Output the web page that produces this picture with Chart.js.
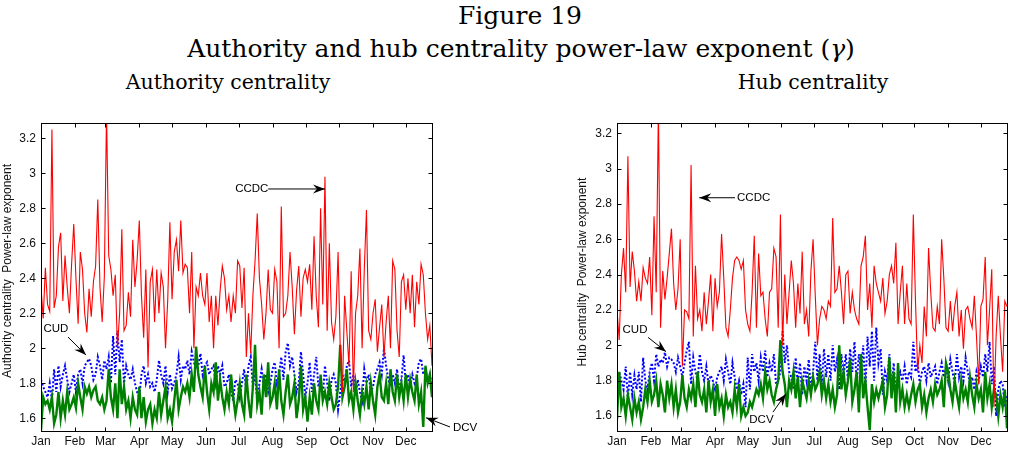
<!DOCTYPE html>
<html>
<head>
<meta charset="utf-8">
<script src="https://cdn.jsdelivr.net/npm/chart.js@4.4.1/dist/chart.umd.min.js"></script>
<style>
  body { margin: 0; background: #fff; }
  #page { position: relative; width: 1013px; height: 453px; overflow: hidden; }
  .ttl { position: absolute; font-family: "DejaVu Serif", serif; color: #000; text-align: center; line-height: 1; white-space: nowrap; }
  canvas { position: absolute; }
</style>
</head>
<body>
<div id="page">
  <div class="ttl" style="left:20px;width:1000px;top:3px;font-size:25px">Figure 19</div>
  <div class="ttl" style="left:21px;width:1000px;top:36px;font-size:25px">Authority and hub centrality power-law exponent (<i>γ</i>)</div>
  <div class="ttl" style="left:28px;width:400px;top:72px;font-size:20.5px">Authority centrality</div>
  <div class="ttl" style="left:613px;width:400px;top:72px;font-size:20.5px">Hub centrality</div>
  <canvas id="authChart" width="480" height="353" style="left:0;top:100px"></canvas>
  <canvas id="hubChart" width="437" height="353" style="left:576px;top:100px"></canvas>
</div>
<script>
// month axis (day of year of each month start)
const monthNames = ['Jan', 'Feb', 'Mar', 'Apr', 'May', 'Jun', 'Jul', 'Aug', 'Sep', 'Oct', 'Nov', 'Dec'];
const monthStarts = [0, 31, 59, 90, 120, 151, 181, 212, 243, 273, 304, 334];
const yTicks = [1.6, 1.8, 2, 2.2, 2.4, 2.6, 2.8, 3, 3.2];
const dayStep = 2; // one reading every second day

// Authority centrality
const authCCDC = [
  2.35, 2.17, 2.46, 2.25, 2.21, 3.25, 2.23, 2.3, 2.58, 2.66, 2.27, 2.53, 2.35, 2.2, 2.48, 2.71,
  2.4, 2.14, 2.55, 2.45, 2.2, 2.09, 2.34, 2.18, 2.38, 2.47, 2.85, 2.35, 2.15, 2.41,
  3.35, 2.53, 2.45, 2.3, 2.42, 2.0, 2.2, 2.68, 2.1, 2.13, 2.32, 2.18, 2.62, 2.35, 2.5,
  2.73, 2.3, 2.06, 2.45, 1.89, 2.38, 2.45, 2.15, 2.45, 2.2, 2.43, 2.35, 2.0, 2.27, 2.72,
  2.28, 2.55, 2.62, 2.44, 2.73, 2.43, 2.48, 2.46, 2.2, 2.55, 2.0, 2.35, 2.3, 2.43, 2.3, 2.25,
  2.43, 2.15, 2.3, 2.0, 2.3, 2.13, 2.33, 2.47, 2.4, 2.22, 2.3, 2.15, 2.3, 2.2, 2.5,
  2.47, 2.23, 2.46, 1.95, 2.2, 1.97, 2.3, 2.5, 2.77, 2.4, 2.25, 2.05, 2.2, 2.45, 2.22,
  2.2, 2.45, 2.38, 2.0, 2.81, 2.18, 2.2, 2.3, 2.55, 2.35, 2.08, 2.33, 2.47, 2.18, 2.4, 2.45,
  2.38, 2.48, 2.22, 2.64, 2.3, 2.12, 2.8, 2.25, 2.98, 2.1, 2.6, 2.15, 2.05, 2.18, 2.55,
  2.0, 1.75, 2.3, 2.1, 1.9, 2.44, 1.75, 2.2, 2.3, 2.57, 2.0, 2.45, 2.79, 2.1, 2.05,
  2.2, 2.28, 1.98, 2.12, 2.25, 1.95, 2.15, 2.3, 2.0, 2.5, 2.45, 2.1, 1.95, 2.38, 2.42,
  2.22, 2.4, 2.2, 2.42, 2.12, 2.38, 2.25, 2.48, 2.42, 2.2, 2.05, 2.13, 1.9
];
const authCUD = [
  1.82, 1.78, 1.75, 1.72, 1.8, 1.7, 1.88, 1.75, 1.9, 1.78, 1.85, 1.9, 1.82, 1.75, 1.8, 1.85,
  1.75, 1.85, 1.88, 1.8, 1.9, 1.92, 1.94, 1.9, 1.82, 1.85, 1.95, 1.9, 1.82, 1.93,
  1.88, 1.95, 1.8, 2.07, 1.85, 2.1, 1.92, 2.05, 1.8, 1.9, 1.85, 1.82, 1.88, 1.8, 1.75,
  1.72, 1.85, 1.9, 1.8, 1.85, 1.78, 1.8, 1.75, 1.82, 1.93, 1.85, 1.8, 1.9, 1.75, 1.85,
  1.77, 1.8, 1.85, 1.95, 1.82, 1.9, 1.88, 1.93, 1.85, 1.98, 1.92, 1.88, 1.9, 1.97, 1.85, 1.9,
  1.92, 1.85, 1.88, 1.9, 1.8, 1.9, 1.85, 1.9, 1.78, 1.8, 1.85, 1.75, 1.7, 1.82, 1.8,
  1.72, 1.8, 1.88, 1.75, 1.9, 1.95, 1.78, 1.85, 1.7, 1.8, 1.88, 1.78, 1.85, 1.75, 1.8,
  1.88, 1.92, 1.8, 1.85, 1.95, 1.82, 1.98, 2.03, 1.9, 1.95, 1.85, 1.75, 1.8, 1.98, 1.85, 1.72,
  1.8, 1.92, 1.75, 1.85, 1.95, 1.78, 1.82, 1.72, 1.9, 1.8, 1.7, 1.82, 1.85, 1.8, 1.65,
  1.75, 1.85, 1.8, 1.9, 1.93, 1.78, 1.85, 1.73, 1.82, 1.75, 1.7, 1.88, 1.8, 1.85, 1.75,
  1.78, 1.85, 1.88, 1.92, 1.85, 2.0, 1.9, 1.82, 1.78, 1.85, 1.8, 1.88, 1.75, 1.82, 1.96,
  1.8, 1.85, 1.78, 1.85, 1.8, 1.83, 1.92, 1.94, 1.85, 1.88, 1.82, 1.85, 1.78
];
const authDCV = [
  1.53, 1.72, 1.68, 1.7, 1.65, 1.72, 1.57, 1.62, 1.75, 1.6, 1.7, 1.62, 1.75, 1.65, 1.68, 1.72,
  1.66, 1.8, 1.72, 1.65, 1.78, 1.74, 1.78, 1.72, 1.76, 1.78, 1.7, 1.68, 1.72, 1.65,
  1.7, 1.88, 1.72, 1.65, 1.8, 1.6, 1.88, 1.68, 1.78, 1.65, 1.7, 1.6, 1.72, 1.65, 1.62,
  1.78, 1.6, 1.72, 1.58, 1.65, 1.68, 1.57, 1.65, 1.6, 1.75, 1.62, 1.7, 1.78, 1.6, 1.65,
  1.58, 1.7, 1.82, 1.65, 1.72, 1.78, 1.75, 1.8, 1.72, 1.85, 1.75, 2.01, 1.85, 1.78, 1.72, 1.9,
  1.75, 1.65, 1.8, 1.75, 1.92, 1.7, 1.82, 1.72, 1.65, 1.75, 1.68, 1.85, 1.72, 1.62, 1.7,
  1.8, 1.68, 1.62, 1.85, 1.7, 1.6, 1.78, 2.02, 1.68, 1.75, 1.62, 1.85, 1.72, 1.92, 1.68,
  1.72, 1.8, 1.65, 1.88, 1.7, 1.62, 1.75, 1.85, 1.68, 1.72, 1.8, 1.6, 1.7, 1.9, 1.65, 1.72,
  1.58, 1.72, 1.62, 1.8, 1.7, 1.65, 1.85, 1.7, 1.75, 1.68, 1.8, 1.72, 1.65, 1.68, 1.78,
  2.02, 1.72, 1.78, 1.88, 1.7, 1.75, 1.65, 1.8, 1.7, 1.62, 1.75, 1.68, 1.78, 1.65, 1.8,
  1.7, 1.62, 1.78, 1.85, 1.72, 1.7, 1.8, 1.68, 1.88, 1.75, 1.7, 1.85, 1.72, 1.8, 1.7,
  1.85, 1.72, 1.82, 1.75, 1.7, 1.85, 1.68, 1.75, 1.55, 1.9, 1.8, 1.85, 1.72
];

// Hub centrality
const hubCCDC = [
  2.2, 2.03, 2.4, 2.55, 2.3, 3.07, 2.33, 2.53, 2.42, 2.25, 2.36, 2.25, 2.44, 2.38, 2.35, 2.5,
  2.17, 2.73, 2.3, 3.35, 2.1, 2.42, 2.26, 2.38, 2.52, 2.66, 2.35, 2.2, 2.32, 2.6,
  1.88, 2.2, 2.19, 2.15, 3.02, 2.05, 2.45, 2.15, 2.2, 2.08, 2.3, 2.12, 2.25, 2.4, 2.08,
  2.38, 2.22, 2.3, 2.63, 2.38, 2.1, 2.05, 2.2, 2.38, 2.48, 2.5, 2.48, 2.43, 2.48, 2.2,
  2.12, 2.08, 2.3, 2.62, 2.1, 2.52, 2.28, 2.3, 2.15, 2.05, 2.3, 2.32, 2.55, 2.5, 2.1, 2.74,
  2.0, 2.4, 2.12, 2.3, 2.48, 2.35, 2.1, 2.35, 2.18, 2.53, 2.12, 2.2, 2.05, 2.42, 2.6,
  2.28, 2.0, 2.15, 2.22, 2.2, 2.15, 2.25, 2.22, 2.72, 2.3, 2.32, 2.45, 2.3, 2.12, 2.4,
  2.42, 2.18, 2.3, 2.2, 2.15, 2.12, 2.45, 2.5, 2.62, 2.2, 2.35, 2.1, 2.45, 2.35, 2.3, 2.25,
  2.38, 2.18, 2.25, 2.4, 2.45, 2.35, 2.58, 2.12, 2.3, 2.45, 2.12, 2.35, 2.15, 2.12, 2.74,
  2.25, 1.85, 2.0, 1.9, 2.22, 2.05, 2.55, 2.3, 2.1, 2.08, 2.22, 2.12, 2.6, 2.38, 2.1,
  2.08, 2.25, 2.08, 2.22, 2.3, 2.05, 2.2, 1.98, 2.2, 2.22, 2.15, 2.1, 2.28, 2.05, 1.78,
  2.22, 2.26, 2.5, 2.0, 2.2, 2.43, 1.65, 2.05, 2.28, 2.05, 1.85, 2.25, 2.22
];
const hubCUD = [
  1.72, 1.85, 1.8, 1.75, 1.88, 1.7, 1.85, 1.72, 1.83, 1.75, 1.85, 1.68, 1.93, 1.8, 1.75, 1.85,
  1.9, 1.8, 1.95, 1.88, 1.92, 1.9, 1.96, 1.88, 1.93, 1.92, 1.9, 1.85, 1.93, 1.88,
  1.82, 1.9, 1.97, 2.02, 1.78, 1.93, 1.85, 1.8, 1.95, 1.85, 1.8, 1.88, 1.78, 1.83, 1.8,
  1.75, 1.82, 1.85, 1.88, 1.8, 1.92, 1.85, 1.78, 1.9, 1.82, 1.75, 1.8, 1.72, 1.78, 1.65,
  1.93, 1.75, 1.95, 1.85, 1.9, 1.8, 1.93, 1.85, 1.97, 1.82, 1.9, 1.85, 1.95, 1.78, 1.8, 1.85,
  2.08, 1.9, 2.0, 1.85, 1.82, 1.75, 1.93, 1.78, 1.9, 1.72, 1.88, 1.8, 1.92, 1.75, 1.85,
  2.02, 1.8, 1.95, 1.78, 1.98, 1.82, 1.95, 1.8, 2.0, 1.85, 1.92, 1.75, 1.95, 1.82, 1.95,
  1.8, 1.98, 1.85, 2.02, 1.78, 1.95, 1.85, 2.0, 1.75, 2.05, 1.88, 2.08, 1.8, 2.1, 1.9, 1.98,
  1.72, 1.85, 1.8, 1.95, 1.75, 1.9, 1.72, 1.82, 1.85, 1.8, 1.88, 1.78, 1.85, 1.82, 2.02,
  1.85, 1.9, 1.78, 1.85, 1.88, 1.8, 1.9, 1.82, 1.85, 1.88, 1.78, 1.85, 1.9, 1.82, 1.88,
  1.8, 1.92, 1.85, 1.78, 1.95, 1.82, 1.88, 1.8, 1.93, 1.85, 1.78, 1.82, 1.75, 1.85, 1.8,
  1.88, 1.82, 1.95, 1.85, 2.02, 1.78, 1.88, 1.6, 1.75, 1.8, 1.78, 1.65, 1.72
];
const hubDCV = [
  1.58, 1.85, 1.65, 1.7, 1.6, 1.72, 1.65, 1.58, 1.7, 1.62, 1.68, 1.58, 1.65, 1.75, 1.68, 1.8,
  1.68, 1.72, 1.8, 1.65, 1.78, 1.72, 1.62, 1.8, 1.7, 1.78, 1.65, 1.75, 1.62, 1.68,
  1.83, 1.7, 1.65, 1.75, 1.7, 1.78, 1.65, 1.85, 1.72, 1.68, 1.75, 1.62, 1.8, 1.68, 1.75,
  1.6, 1.78, 1.65, 1.7, 1.6, 1.72, 1.65, 1.68, 1.62, 1.75, 1.65, 1.78, 1.6, 1.65, 1.6,
  1.62, 1.68, 1.65, 1.7, 1.75, 1.72, 1.78, 1.7, 1.85, 1.75, 1.8, 1.72, 1.68, 1.75, 1.8, 2.03,
  1.85, 1.78, 1.65, 1.8, 1.75, 1.85, 1.7, 1.82, 1.65, 1.8, 1.75, 1.7, 1.8, 1.72, 1.82,
  1.75, 1.78, 1.85, 1.72, 1.8, 1.7, 1.78, 1.68, 1.75, 1.65, 1.72, 2.0, 1.75, 1.85, 1.72,
  1.8, 1.92, 1.68, 1.75, 1.85, 1.62, 1.95, 1.7, 1.8, 1.65, 1.52, 1.78, 1.68, 1.75, 1.7, 1.75,
  1.8, 1.65, 1.72, 1.93, 1.7, 1.85, 1.62, 1.9, 1.68, 1.75, 1.65, 1.72, 1.65, 1.72, 1.78,
  1.68, 1.75, 1.78, 1.65, 1.72, 1.62, 1.7, 1.75, 1.68, 1.78, 1.72, 1.75, 1.8, 1.65, 1.9,
  1.85, 1.75, 1.68, 1.8, 1.72, 1.65, 1.8, 1.7, 1.75, 1.68, 1.82, 1.72, 1.65, 1.78, 1.7,
  1.75, 1.62, 1.85, 1.7, 1.78, 1.65, 1.75, 1.72, 1.6, 1.72, 1.65, 1.75, 1.53
];

const sansFont = '"Liberation Sans", Arial, sans-serif';
const days = authCCDC.map((_, i) => i * dayStep);
const toPoints = vals => vals.map((v, i) => ({ x: days[i], y: v }));

const drawArrow = (ctx, x1, y1, x2, y2) => {
    ctx.beginPath();
    ctx.moveTo(x1, y1);
    ctx.lineTo(x2, y2);
    ctx.stroke();
    const ang = Math.atan2(y2 - y1, x2 - x1);
    ctx.save();
    ctx.translate(x2, y2);
    ctx.rotate(ang);
    ctx.beginPath();
    ctx.moveTo(0, 0);
    ctx.lineTo(-12, -4.5);
    ctx.lineTo(-8, 0);
    ctx.lineTo(-12, 4.5);
    ctx.closePath();
    ctx.fill();
    ctx.restore();
};

// box, inward ticks on all sides, rotated y label and the text arrows
const matlabFrame = {
    id: 'matlabFrame',
    afterDraw(chart, args, opts) {
        const { ctx, chartArea: a, scales: { x, y } } = chart;
        ctx.save();
        ctx.strokeStyle = '#000';
        ctx.fillStyle = '#000';
        ctx.lineWidth = 1;
        const l = Math.round(a.left) + 0.5, r = Math.round(a.right) + 0.5;
        const t = Math.round(a.top) + 0.5, b = Math.round(a.bottom) + 0.5;
        ctx.strokeRect(l, t, r - l, b - t);
        ctx.beginPath();
        x.ticks.forEach(tk => {
            const px = Math.round(x.getPixelForValue(tk.value)) + 0.5;
            ctx.moveTo(px, b); ctx.lineTo(px, b - 4);
            ctx.moveTo(px, t); ctx.lineTo(px, t + 4);
        });
        y.ticks.forEach(tk => {
            const py = Math.round(y.getPixelForValue(tk.value)) + 0.5;
            ctx.moveTo(l, py); ctx.lineTo(l + 4, py);
            ctx.moveTo(r, py); ctx.lineTo(r - 4, py);
        });
        ctx.stroke();

        ctx.fillStyle = '#111';
        ctx.font = '12px ' + sansFont;
        ctx.textAlign = 'center';
        ctx.textBaseline = 'middle';
        ctx.save();
        ctx.translate(opts.yTitle.x, opts.yTitle.y);
        ctx.rotate(-Math.PI / 2);
        ctx.fillText(opts.yTitle.text, 0, 0);
        ctx.restore();

        ctx.fillStyle = '#000';
        ctx.font = '11.5px ' + sansFont;
        opts.notes.forEach(n => {
            ctx.textAlign = n.align;
            ctx.fillText(n.text, x.getPixelForValue(n.tx), y.getPixelForValue(n.ty));
            drawArrow(ctx, x.getPixelForValue(n.x1), y.getPixelForValue(n.y1),
                x.getPixelForValue(n.x2), y.getPixelForValue(n.y2));
        });
        ctx.restore();
    }
};

const makeDatasets = (ccdc, cud, dcv) => [
    { label: 'CCDC', data: toPoints(ccdc), borderColor: '#ff0000', borderWidth: 1.1, order: 0 },
    { label: 'DCV', data: toPoints(dcv), borderColor: '#008000', borderWidth: 2.4, order: 1 },
    { label: 'CUD', data: toPoints(cud), borderColor: '#0000ff', borderWidth: 2, borderDash: [2, 2], order: 2 }
].map(d => Object.assign(d, { pointRadius: 0, tension: 0, fill: false, clip: 0 }));

const makeOptions = (yMin, yMax, padRight, yTitle, notes) => ({
    responsive: false,
    animation: false,
    devicePixelRatio: 1,
    layout: { padding: { top: 23, right: padRight, bottom: 0, left: 0 } },
    plugins: {
        legend: { display: false },
        tooltip: { enabled: false },
        matlabFrame: { yTitle, notes }
    },
    scales: {
        x: {
            type: 'linear',
            min: 0,
            max: 358,
            afterBuildTicks: s => { s.ticks = monthStarts.map(v => ({ value: v })); },
            afterFit: s => { s.height = 22; },
            grid: { display: false, drawTicks: false },
            border: { display: false },
            ticks: {
                autoSkip: false, maxRotation: 0, padding: 3, color: '#111',
                font: { family: sansFont, size: 12 },
                callback: (v, i) => monthNames[i]
            }
        },
        y: {
            min: yMin,
            max: yMax,
            afterBuildTicks: s => { s.ticks = yTicks.map(v => ({ value: v })); },
            afterFit: s => { s.width = 41; },
            grid: { display: false, drawTicks: false },
            border: { display: false },
            ticks: {
                padding: 5, color: '#111',
                font: { family: sansFont, size: 12 },
                callback: v => String(+v.toFixed(1))
            }
        }
    }
});

new Chart(document.getElementById('authChart'), {
    type: 'line',
    data: { datasets: makeDatasets(authCCDC, authCUD, authDCV) },
    options: makeOptions(1.527, 3.287, 48,
        { text: 'Authority centrality  Power-law exponent', x: 7.5, y: 171 },
        [
            { text: 'CCDC', align: 'center', tx: 193, ty: 2.91, x1: 208, y1: 2.91, x2: 260, y2: 2.91 },
            { text: 'CUD', align: 'center', tx: 13.7, ty: 2.11, x1: 24.7, y1: 2.064, x2: 41.2, y2: 1.961 },
            { text: 'DCV', align: 'left', tx: 377.2, ty: 1.547, x1: 374.5, y1: 1.55, x2: 352.5, y2: 1.603 }
        ]),
    plugins: [matlabFrame]
});

new Chart(document.getElementById('hubChart'), {
    type: 'line',
    data: { datasets: makeDatasets(hubCCDC, hubCUD, hubDCV) },
    options: makeOptions(1.515, 3.258, 6,
        { text: 'Hub centrality  Power-law exponent', x: 7, y: 172 },
        [
            { text: 'CCDC', align: 'left', tx: 110.2, ty: 2.835, x1: 108.3, y1: 2.835, x2: 75.5, y2: 2.835 },
            { text: 'CUD', align: 'center', tx: 16.5, ty: 2.09, x1: 28.5, y1: 2.045, x2: 45, y2: 1.964 },
            { text: 'DCV', align: 'center', tx: 132.6, ty: 1.577, x1: 143.2, y1: 1.622, x2: 155, y2: 1.725 }
        ]),
    plugins: [matlabFrame]
});
</script>
</body>
</html>
